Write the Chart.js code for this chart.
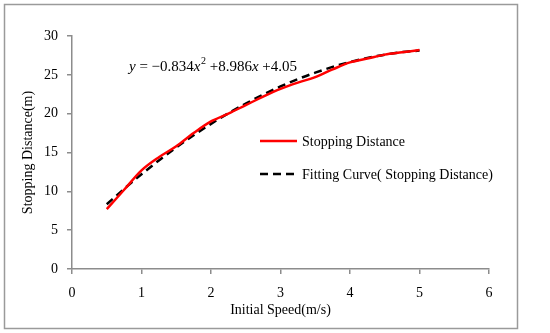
<!DOCTYPE html>
<html><head><meta charset="utf-8">
<script src="https://cdn.jsdelivr.net/npm/chart.js@4"></script>
<style>html,body{margin:0;padding:0;background:#fff}#wrap{width:550px;height:333px;position:relative}</style>
</head><body><div id="wrap"><canvas id="c" width="550" height="333"></canvas></div>
<script>
const speeds = [0.5,0.75,1.0,1.25,1.5,1.75,2.0,2.25,2.5,2.75,3.0,3.25,3.5,3.75,4.0,4.25,4.5,4.75,5.0];
const stopping = [7.7,10.2,12.7,14.4,15.8,17.5,19.0,20.0,21.1,22.2,23.2,24.0,24.7,25.7,26.6,27.1,27.6,27.9,28.2];
const fitting = [8.33,10.32,12.20,13.98,15.65,17.22,18.69,20.05,21.30,22.45,23.50,24.45,25.28,26.02,26.65,27.18,27.60,27.92,28.13];
const xTicks = [0,1,2,3,4,5,6];
const yTicks = [0,5,10,15,20,25,30];
const seriesNames = ['Stopping Distance','Fitting Curve( Stopping Distance)'];
const xTitle = 'Initial Speed(m/s)';
const yTitle = 'Stopping Distance(m)';

const serif = '"Liberation Serif","Times New Roman",serif';
const axisGray = '#8c8c8c';

const overlay = {
  id:'overlay',
  beforeDraw(chart){
    const ctx = chart.ctx;
    ctx.save();
    ctx.fillStyle='#fff'; ctx.fillRect(0,0,chart.width,chart.height);
    ctx.strokeStyle='#9a9a9a'; ctx.lineWidth=1.5;
    ctx.strokeRect(4.5,4.5,513,324);
    ctx.restore();
  },
  afterDraw(chart){
    const ctx = chart.ctx;
    ctx.save();
    ctx.lineWidth=2.5;
    ctx.strokeStyle='#ff0000'; ctx.setLineDash([]);
    ctx.beginPath(); ctx.moveTo(260,141); ctx.lineTo(297,141); ctx.stroke();
    ctx.strokeStyle='#000'; ctx.setLineDash([8,5]);
    ctx.beginPath(); ctx.moveTo(260,174); ctx.lineTo(298,174); ctx.stroke();
    ctx.setLineDash([]);
    ctx.fillStyle='#000'; ctx.textBaseline='middle'; ctx.textAlign='left';
    ctx.font='14px '+serif;
    ctx.fillText(seriesNames[0],302,142);
    ctx.fillText(seriesNames[1],302,175);
    const parts = [
      ['y','italic '],[' = \u22120.834',''],['x','italic '],['2','sup'],[' +8.986',''],['x','italic '],[' +4.05','']
    ];
    let x = 129; const base = 71;
    ctx.textBaseline='alphabetic';
    for(const [t,s] of parts){
      if(s==='sup'){ ctx.font='10px '+serif; ctx.fillText(t,x+0.5,base-7); x+=ctx.measureText(t).width+0.5; }
      else { ctx.font=s+'15px '+serif; ctx.fillText(t,x,base); x+=ctx.measureText(t).width; }
    }
    ctx.restore();
  }
};

new Chart(document.getElementById('c'),{
  type:'line',
  data:{
    datasets:[
      {label:seriesNames[0],data:speeds.map((s,i)=>({x:s,y:stopping[i]})),borderColor:'#ff0000',borderWidth:2.5,pointRadius:0,cubicInterpolationMode:'monotone',fill:false},
      {label:seriesNames[1],data:speeds.map((s,i)=>({x:s,y:fitting[i]})),borderColor:'#000',borderWidth:2.5,borderDash:[8,5],pointRadius:0,cubicInterpolationMode:'monotone',fill:false}
    ]
  },
  options:{
    responsive:false,animation:false,
    layout:{padding:{left:1,right:61,top:36,bottom:0}},
    plugins:{legend:{display:false},tooltip:{enabled:false}},
    scales:{
      x:{type:'linear',min:0,max:6,
        afterBuildTicks(s){s.ticks=xTicks.map(v=>({value:v}));},
        afterFit(s){s.height=64;},
        grid:{drawOnChartArea:false,drawTicks:true,tickLength:5,color:axisGray,lineWidth:1.5},
        border:{color:axisGray,width:1.5},
        ticks:{color:'#000',font:{family:serif,size:14},padding:11,maxRotation:0},
        title:{display:true,text:xTitle,color:'#000',font:{family:serif,size:14},padding:{top:0,bottom:14}}
      },
      y:{type:'linear',min:0,max:30,
        afterBuildTicks(s){s.ticks=yTicks.map(v=>({value:v}));},
        afterFit(s){s.width=71;},
        grid:{drawOnChartArea:false,drawTicks:true,tickLength:5,color:axisGray,lineWidth:1.5},
        border:{color:axisGray,width:1.5},
        ticks:{color:'#000',font:{family:serif,size:14},padding:9},
        title:{display:true,text:yTitle,color:'#000',font:{family:serif,size:14},padding:{top:19,bottom:0}}
      }
    }
  },
  plugins:[overlay]
});
</script></body></html>
